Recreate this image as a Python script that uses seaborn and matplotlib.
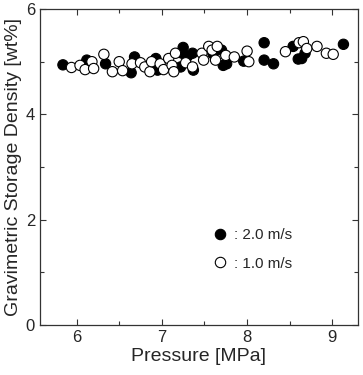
import matplotlib
matplotlib.use("Agg")
import matplotlib.pyplot as plt
import seaborn as sns
import pandas as pd
from matplotlib.lines import Line2D

# Data
p_20 = [5.84, 6.12, 6.34, 6.64, 6.68, 6.93, 6.95, 7.25, 7.24, 7.36, 7.22, 7.37, 7.30,
        7.60, 7.70, 7.72, 7.76, 7.96, 8.20, 8.20, 8.31, 8.54, 8.60, 8.64, 8.68, 9.13]
d_20 = [4.94, 5.03, 4.96, 4.79, 5.09, 5.06, 4.84, 5.27, 5.16, 5.16, 4.90, 4.84, 5.10,
        5.15, 5.22, 4.93, 4.96, 5.01, 5.36, 5.03, 4.96, 5.29, 5.05, 5.06, 5.16, 5.33]
p_10 = [5.94, 6.04, 6.10, 6.18, 6.20, 6.32, 6.42, 6.50, 6.54, 6.65, 6.75, 6.80, 6.86,
        6.88, 6.98, 7.02, 7.08, 7.12, 7.14, 7.16, 7.28, 7.36, 7.47, 7.49, 7.55, 7.59,
        7.63, 7.65, 7.75, 7.85, 8.00, 8.02, 8.45, 8.61, 8.66, 8.70, 8.82, 8.93, 9.01]
d_10 = [4.89, 4.93, 4.85, 5.00, 4.87, 5.14, 4.81, 5.00, 4.83, 4.96, 4.98, 4.90, 4.81,
        5.00, 4.96, 4.85, 5.06, 4.93, 4.81, 5.16, 4.98, 4.90, 5.16, 5.03, 5.29, 5.22,
        5.03, 5.29, 5.12, 5.09, 5.20, 5.00, 5.19, 5.36, 5.38, 5.25, 5.29, 5.16, 5.14]
labels = [": 2.0 m/s", ": 1.0 m/s"]
x_ticks = [6, 7, 8, 9]
y_ticks = [0, 2, 4, 6]

df = pd.DataFrame({
    "p": p_20 + p_10,
    "d": d_20 + d_10,
    "v": [labels[0]] * len(p_20) + [labels[1]] * len(p_10),
})

sns.set_style("ticks")
plt.rcParams["font.family"] = ["Liberation Sans", "DejaVu Sans"]

fig = plt.figure(figsize=(3.63, 3.75), dpi=100)
ax = fig.add_axes([0.110, 0.133, 0.876, 0.843])

sns.scatterplot(data=df, x="p", y="d", hue="v",
                palette={labels[0]: "black", labels[1]: "white"},
                edgecolor="black", linewidth=0.8, s=55, legend=False, ax=ax, zorder=3)

ax.set_xlim(5.57, 9.3)
ax.set_ylim(0, 6)
ax.set_xticks(x_ticks)
ax.set_xticks([6.5, 7.5, 8.5], minor=True)
ax.set_yticks(y_ticks)
ax.set_yticks([1, 3, 5], minor=True)
ax.tick_params(which="both", direction="in", top=True, right=True, labelsize=12,
               width=0.8, color="#333333")
ax.tick_params(which="major", length=4)
ax.tick_params(which="minor", length=3)
for s in ax.spines.values():
    s.set_linewidth(0.9)
    s.set_color("#333333")

ax.set_xlabel("Pressure [MPa]", fontsize=14, labelpad=2)
ax.set_ylabel("Gravimetric Storage Density [wt%]", fontsize=14, labelpad=3)

handles = [
    Line2D([], [], marker="o", linestyle="", markerfacecolor="black", markeredgecolor="black",
           markersize=7.5, markeredgewidth=0.8),
    Line2D([], [], marker="o", linestyle="", markerfacecolor="white", markeredgecolor="black",
           markersize=7.5, markeredgewidth=0.8),
]
ax.legend(handles, labels, loc="center left", bbox_to_anchor=(0.50, 0.24), frameon=False,
          fontsize=11, handletextpad=0.4, handlelength=1.0, labelspacing=0.95)

fig.savefig("out.png", dpi=100)
